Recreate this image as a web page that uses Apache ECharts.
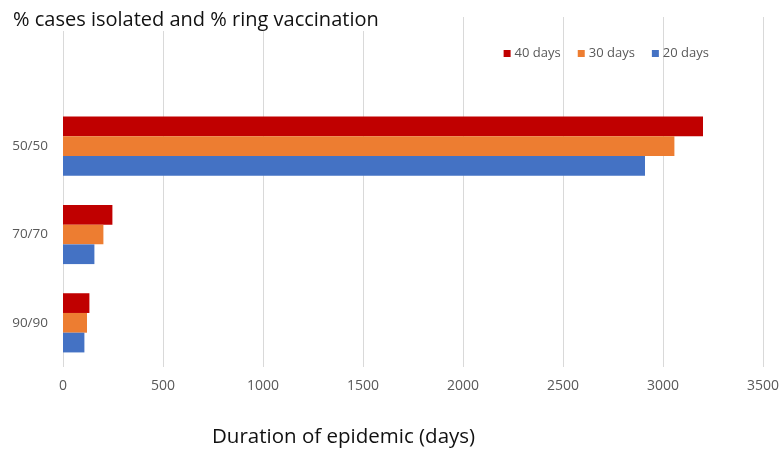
<!DOCTYPE html>
<html>
<head>
<meta charset="utf-8">
<script src="https://cdn.jsdelivr.net/npm/echarts@6/dist/echarts.min.js"></script>
<style>
  html, body { margin: 0; padding: 0; background: #fff; }
  #chart { width: 780px; height: 450px; }
</style>
</head>
<body>
<div id="chart"></div>
<script>
// Scenario labels: % cases isolated / % ring vaccination
const categories = ['50/50', '70/70', '90/90'];
// Epidemic duration (days) per delay setting
const days40 = [3200, 247, 132];
const days30 = [3057, 202, 120];
const days20 = [2910, 157, 107];
const seriesNames = ['40 days', '30 days', '20 days'];
const xTicks = { min: 0, max: 3500, interval: 500 };

const FONT = '"Open Sans", "Liberation Sans", sans-serif';
const colors = ['#C00000', '#ED7D31', '#4472C4'];

const chart = echarts.init(document.getElementById('chart'), null, { renderer: 'canvas' });

const seriesData = [days40, days30, days20];

chart.setOption({
  animation: false,
  backgroundColor: '#ffffff',
  color: colors,
  title: [
    {
      text: '% cases isolated and % ring vaccination',
      left: 8,
      top: 6,
      padding: [4, 5, 1, 5],
      backgroundColor: '#ffffff',
      textStyle: { fontFamily: FONT, fontSize: 20, fontWeight: 'normal', color: '#111' }
    },
    {
      text: 'Duration of epidemic (days)',
      left: 209,
      top: 425,
      padding: [2, 3],
      textStyle: { fontFamily: FONT, fontSize: 20.5, fontWeight: 'normal', color: '#111' }
    }
  ],
  legend: {
    data: seriesNames,
    right: 66,
    top: 42,
    icon: 'rect',
    itemWidth: 7,
    itemHeight: 7,
    itemGap: 17,
    textStyle: { fontFamily: FONT, fontSize: 13, color: '#595959', padding: [0, 0, 0, -1] }
  },
  grid: [
    { left: 63, right: 17, top: 17, bottom: 83, outerBoundsMode: 'none', containLabel: false },
    { left: 63, right: 17, top: 102, bottom: 83, outerBoundsMode: 'none', containLabel: false }
  ],
  xAxis: [
    {
      gridIndex: 0,
      type: 'value',
      min: xTicks.min, max: xTicks.max, interval: xTicks.interval,
      axisLine: { show: false },
      axisTick: { show: false },
      splitLine: { show: true, lineStyle: { color: '#d9d9d9', width: 1 } },
      axisLabel: {
        margin: 12, fontFamily: FONT, fontSize: 14, color: '#595959',
        formatter: v => String(v)
      }
    },
    {
      gridIndex: 1,
      type: 'value',
      min: xTicks.min, max: xTicks.max, interval: xTicks.interval,
      show: false
    }
  ],
  yAxis: [
    { gridIndex: 0, type: 'value', show: false },
    {
      gridIndex: 1,
      type: 'category',
      data: categories,
      inverse: true,
      axisLine: { show: false },
      axisTick: { show: false },
      splitLine: { show: false },
      axisLabel: { margin: 15, fontFamily: FONT, fontSize: 13.5, color: '#595959' }
    }
  ],
  series: seriesNames.map((name, i) => ({
    name: name,
    type: 'bar',
    xAxisIndex: 1,
    yAxisIndex: 1,
    data: seriesData[i],
    barGap: '0%',
    barCategoryGap: '33%',
    itemStyle: { color: colors[i] }
  }))
});
</script>
</body>
</html>
